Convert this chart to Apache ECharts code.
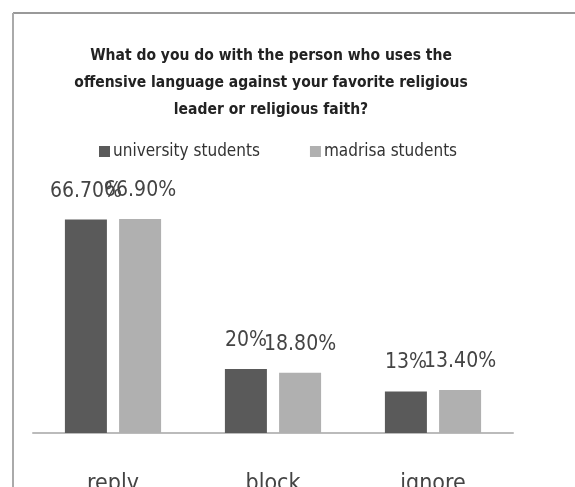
<!DOCTYPE html>
<html><head><meta charset="utf-8">
<script src="https://cdn.jsdelivr.net/npm/echarts@6/dist/echarts.min.js"></script>
<style>html,body{margin:0;padding:0;background:#fff}#c{width:575px;height:487px}</style>
</head><body><div id="c"></div>
<script>
const categories = ['reply', 'block', 'ignore'];
const universityStudents = [66.7, 20, 13];
const madrisaStudents = [66.9, 18.8, 13.4];
const universityLabels = ['66.70%', '20%', '13%'];
const madrisaLabels = ['66.90%', '18.80%', '13.40%'];
const seriesNames = ['university students', 'madrisa students'];
const titleText = 'What do you do with the person who uses the\noffensive language against your favorite religious\nleader or religious faith?';

const FONT = '"Liberation Sans Narrow", "DejaVu Sans Condensed", "Open Sans", sans-serif';
const chart = echarts.init(document.getElementById('c'), null, {renderer: 'canvas'});
chart.setOption({
  animation: false,
  backgroundColor: '#fff',
  title: {
    text: titleText,
    left: 266, top: 37, textAlign: 'center',
    textStyle: {fontFamily: FONT, fontWeight: 'bold', fontSize: 15.5, lineHeight: 27, color: '#222'}
  },
  legend: {
    data: seriesNames,
    top: 138, left: 94,
    itemWidth: 11, itemHeight: 11, itemGap: 50,
    icon: 'rect',
    textStyle: {fontFamily: FONT, fontSize: 17, color: '#333', padding: [0,0,0,-2]}
  },
  grid: {left: 33, right: 62, top: 177, bottom: 54, containLabel: false, outerBoundsMode: 'none'},
  xAxis: {
    type: 'category', data: categories,
    axisLine: {lineStyle: {color: '#bbb', width: 2}},
    axisTick: {show: false},
    axisLabel: {fontFamily: FONT, fontSize: 23, color: '#444', margin: 40}
  },
  yAxis: {type: 'value', min: 0, max: 80, show: false, splitLine: {show: false}},
  series: [
    {
      name: seriesNames[0], type: 'bar', data: universityStudents,
      barWidth: 42, barGap: '29%', barCategoryGap: '40%',
      itemStyle: {color: '#5a5a5a'},
      label: {show: true, position: 'top', distance: 18, fontFamily: FONT, fontSize: 21, color: '#444',
        formatter: p => universityLabels[p.dataIndex]}
    },
    {
      name: seriesNames[1], type: 'bar', data: madrisaStudents,
      barWidth: 42,
      itemStyle: {color: '#b0b0b0'},
      label: {show: true, position: 'top', distance: 18, fontFamily: FONT, fontSize: 21, color: '#444',
        formatter: p => madrisaLabels[p.dataIndex]}
    }
  ],
  graphic: [
    {type: 'line', shape: {x1: 13, y1: 13, x2: 575, y2: 13}, style: {stroke: '#999', lineWidth: 2}},
    {type: 'line', shape: {x1: 13, y1: 13, x2: 13, y2: 487}, style: {stroke: '#aaa', lineWidth: 2}}
  ]
});
</script></body></html>
